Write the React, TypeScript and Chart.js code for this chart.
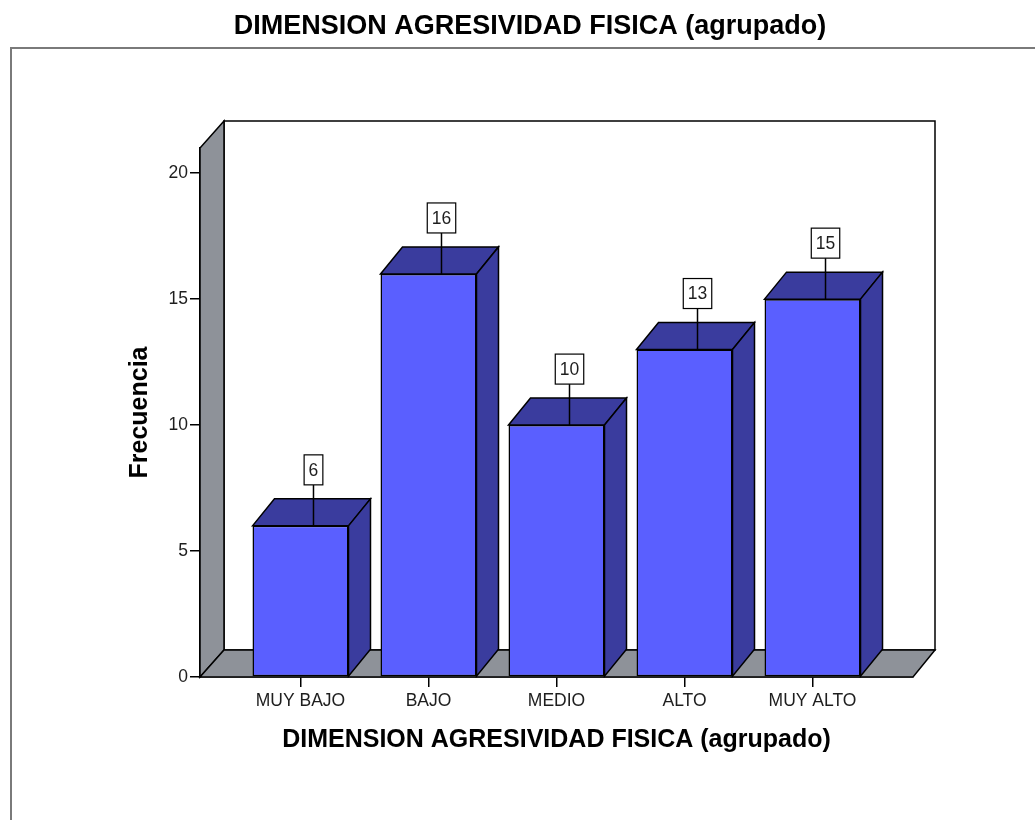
import React, { useEffect, useRef } from 'react';
import { Chart, registerables } from 'chart.js';

Chart.register(...registerables);

const categories = ['MUY BAJO', 'BAJO', 'MEDIO', 'ALTO', 'MUY ALTO'];
const frequencies = [6, 16, 10, 13, 15];
const yTickValues = [0, 5, 10, 15, 20];
const chartTitle = 'DIMENSION AGRESIVIDAD FISICA (agrupado)';
const xTitle = 'DIMENSION AGRESIVIDAD FISICA (agrupado)';
const yTitle = 'Frecuencia';

const FRONT = '#5a5fff';
const DARK = '#3a3c9e';
const GREY = '#8e9299';
const FONT = '"Liberation Sans", Arial, sans-serif';
const TEXT = '#1e1e1e';

const threeD = {
  id: 'threeD',
  beforeDraw(chart: any) {
    const { ctx, width, height } = chart;
    ctx.save();
    ctx.fillStyle = '#fff';
    ctx.fillRect(0, 0, width, height);
    // frame
    ctx.strokeStyle = '#7a7a7a';
    ctx.lineWidth = 2;
    ctx.beginPath();
    ctx.moveTo(11, height);
    ctx.lineTo(11, 48);
    ctx.lineTo(width, 48);
    ctx.stroke();
    // main title
    ctx.fillStyle = '#000';
    ctx.font = 'bold 27px ' + FONT;
    ctx.textAlign = 'center';
    ctx.textBaseline = 'middle';
    ctx.fillText(chartTitle, 530, 27);
    ctx.restore();
  },
  beforeDatasetsDraw(chart: any) {
    const { ctx, chartArea: a } = chart;
    const dx = 24;
    const dy = -27;
    ctx.save();
    ctx.lineWidth = 1.5;
    ctx.strokeStyle = '#000';
    ctx.lineJoin = 'miter';
    // back wall
    ctx.fillStyle = '#fff';
    ctx.beginPath();
    ctx.rect(a.left + dx, a.top + dy, a.right - a.left - 2, a.bottom - a.top);
    ctx.fill();
    ctx.stroke();
    // left wall
    ctx.fillStyle = GREY;
    ctx.beginPath();
    ctx.moveTo(a.left, a.top);
    ctx.lineTo(a.left + dx, a.top + dy);
    ctx.lineTo(a.left + dx, a.bottom + dy);
    ctx.lineTo(a.left, a.bottom);
    ctx.closePath();
    ctx.fill();
    ctx.stroke();
    // floor
    ctx.beginPath();
    ctx.moveTo(a.left, a.bottom);
    ctx.lineTo(a.left + dx, a.bottom + dy);
    ctx.lineTo(a.right + dx - 2, a.bottom + dy);
    ctx.lineTo(a.right, a.bottom);
    ctx.closePath();
    ctx.fill();
    ctx.stroke();
    ctx.restore();
  },
  afterDatasetsDraw(chart: any) {
    const { ctx } = chart;
    const meta = chart.getDatasetMeta(0);
    const bdx = 22;
    const bdy = -27;
    ctx.save();
    ctx.lineWidth = 1.5;
    ctx.strokeStyle = '#000';
    meta.data.forEach((el: any, i: number) => {
      const { x, y, base, width } = el.getProps(['x', 'y', 'base', 'width'], true);
      const l = x - width / 2;
      const r = x + width / 2;
      ctx.fillStyle = DARK;
      // top face
      ctx.beginPath();
      ctx.moveTo(l, y);
      ctx.lineTo(l + bdx, y + bdy);
      ctx.lineTo(r + bdx, y + bdy);
      ctx.lineTo(r, y);
      ctx.closePath();
      ctx.fill();
      ctx.stroke();
      // side face
      ctx.beginPath();
      ctx.moveTo(r, y);
      ctx.lineTo(r + bdx, y + bdy);
      ctx.lineTo(r + bdx, base + bdy);
      ctx.lineTo(r, base);
      ctx.closePath();
      ctx.fill();
      ctx.stroke();
      // value label
      const txt = String(frequencies[i]);
      ctx.font = '17.5px ' + FONT;
      const tw = ctx.measureText(txt).width;
      const bw = tw + 9;
      const bh = 30;
      const cx = x + 13;
      const bb = y - 41;
      ctx.beginPath();
      ctx.moveTo(cx, y);
      ctx.lineTo(cx, bb);
      ctx.stroke();
      ctx.fillStyle = '#fff';
      ctx.lineWidth = 1.2;
      ctx.fillRect(cx - bw / 2, bb - bh, bw, bh);
      ctx.strokeRect(cx - bw / 2, bb - bh, bw, bh);
      ctx.lineWidth = 1.5;
      ctx.fillStyle = TEXT;
      ctx.textAlign = 'center';
      ctx.textBaseline = 'middle';
      ctx.fillText(txt, cx, bb - bh / 2 + 1);
    });
    ctx.restore();
  },
};

export default function App() {
  const ref = useRef<HTMLCanvasElement | null>(null);
  useEffect(() => {
    if (!ref.current) return;
    const chart = new Chart(ref.current, {
      type: 'bar',
      data: {
        datasets: [
          {
            data: frequencies.map((v, i) => ({ x: i, y: v })),
            backgroundColor: FRONT,
            borderColor: '#000',
            borderWidth: 1.5,
            borderSkipped: false,
            barPercentage: 0.75,
            categoryPercentage: 1,
          } as any,
        ],
      },
      options: {
        animation: false,
        responsive: false,
        layout: { padding: { top: 148, right: 122, bottom: 0, left: 0 } },
        plugins: {
          legend: { display: false },
          title: { display: false },
          tooltip: { enabled: false },
        },
        scales: {
          x: {
            type: 'linear',
            min: -0.785,
            max: 4.785,
            offset: false,
            afterBuildTicks: (s: any) => {
              s.ticks = categories.map((_, i) => ({ value: i }));
            },
            afterFit: (s: any) => {
              s.height = 143;
            },
            ticks: {
              autoSkip: false,
              maxRotation: 0,
              padding: 4,
              color: TEXT,
              font: { family: FONT, size: 17.5 },
              callback: (v: any) => categories[v as number] ?? '',
            },
            grid: {
              offset: false,
              drawOnChartArea: false,
              drawTicks: true,
              tickLength: 10,
              color: '#000',
              lineWidth: 1.5,
            },
            border: { display: true, color: '#000', width: 1.5 },
            title: {
              display: true,
              text: xTitle,
              color: '#000',
              font: { family: FONT, size: 25, weight: 'bold' },
              padding: { top: 0, bottom: 65 },
            },
          } as any,
          y: {
            type: 'linear',
            min: 0,
            max: 21,
            afterBuildTicks: (s: any) => {
              s.ticks = yTickValues.map((v) => ({ value: v }));
            },
            afterFit: (s: any) => {
              s.width = 200;
            },
            ticks: {
              padding: 2,
              color: TEXT,
              font: { family: FONT, size: 17.5 },
            },
            grid: {
              drawOnChartArea: false,
              drawTicks: true,
              tickLength: 10,
              color: '#000',
              lineWidth: 1.5,
            },
            border: { display: true, color: '#000', width: 1.5 },
            title: {
              display: true,
              text: yTitle,
              color: '#000',
              font: { family: FONT, size: 25, weight: 'bold' },
              padding: { top: 125, bottom: 0 },
            },
          } as any,
        },
      },
      plugins: [threeD],
    });
    return () => chart.destroy();
  }, []);
  return (
    <div style={{ position: 'absolute', left: 0, top: 0 }}>
      <canvas ref={ref} width={1035} height={820} style={{ display: 'block' }} />
    </div>
  );
}
